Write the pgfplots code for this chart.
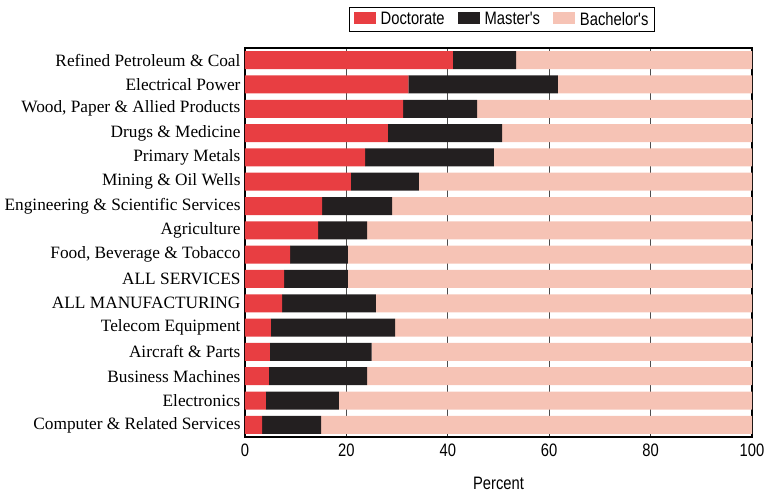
\documentclass[border=0pt]{standalone}
\usepackage{fontspec}
\setmainfont{Liberation Serif}
\newfontfamily\condsans[FakeStretch=0.82]{Liberation Sans}
\usepackage{pgfplots}
\usepackage{pgfplotstable}
\pgfplotsset{compat=1.18}

\definecolor{docred}{RGB}{232,62,66}
\definecolor{masblack}{RGB}{35,31,32}
\definecolor{bachpink}{RGB}{246,195,181}

% bottom row first
\pgfplotstableread{
y doc mas bach
0 3.4 11.6 85.0
1 4.1 14.4 81.5
2 4.7 19.4 75.9
3 4.9 20.1 75.0
4 5.1 24.5 70.4
5 7.3 18.5 74.2
6 7.7 12.6 79.7
7 8.9 11.4 79.7
8 14.4 9.7 75.9
9 15.2 13.8 71.0
10 20.9 13.4 65.7
11 23.7 25.4 50.9
12 28.2 22.5 49.3
13 31.2 14.6 54.2
14 32.2 29.5 38.3
15 41.0 12.5 46.5
}\degrees

\begin{document}
\begin{tikzpicture}
\begin{axis}[
    scale only axis,
    width=507pt, height=389pt,
    xbar stacked,
    bar width=18pt,
    xmin=0, xmax=100,
    ymin=-0.5, ymax=15.5,
    xtick={0,20,...,100},
    ytick={0,...,15},
    yticklabels={{Computer \& Related Services},{Electronics},{Business Machines},
      {Aircraft \& Parts},{Telecom Equipment},{ALL MANUFACTURING},{ALL SERVICES},
      {Food, Beverage \& Tobacco},{Agriculture},{Engineering \& Scientific Services},
      {Mining \& Oil Wells},{Primary Metals},{Drugs \& Medicine},
      {Wood, Paper \& Allied Products},{Electrical Power},{Refined Petroleum \& Coal}},
    y tick label style={font=\fontsize{17.3}{17.3}\selectfont, xshift=-1pt},
    x tick label style={font=\condsans\fontsize{18}{18}\selectfont, yshift=-3pt},
    /pgf/number format/assume math mode=true,
    xlabel={Percent},
    xlabel style={font=\condsans\fontsize{18}{18}\selectfont,
      at={(axis description cs:0.5,0)}, anchor=center, yshift=-46pt},
    xtick pos=bottom,
    ytick style={draw=none},
    xtick style={black!80, line width=0.9pt},
    tick align=inside,
    major tick length=4pt,
    xmajorgrids,
    grid style={black!70, line width=0.9pt},
    axis line style={black, line width=1.1pt},
    legend columns=3,
    legend style={at={(0.507,1)}, anchor=south, yshift=16pt,
      font=\condsans\fontsize{18}{18}\selectfont, draw=black, line width=0.8pt,
      inner xsep=4pt, inner ysep=3pt,
      /tikz/every odd column/.append style={column sep=3pt},
      /tikz/every even column/.append style={column sep=11pt}},
    legend image code/.code={\fill[#1] (-2pt,-5pt) rectangle (20pt,7pt);},
]
\addplot[fill=docred, draw=none] table[x=doc, y=y] {\degrees};
\addlegendentry{Doctorate}
\addplot[fill=masblack, draw=none] table[x=mas, y=y] {\degrees};
\addlegendentry{Master's}
\addplot[fill=bachpink, draw=none] table[x=bach, y=y] {\degrees};
\addlegendentry{Bachelor's}
\coordinate (tl) at (rel axis cs:0,1);
\coordinate (br) at (rel axis cs:1,0);
\end{axis}
\path ([shift={(-245pt,48pt)}]tl) ([shift={(16pt,-55pt)}]br);
\end{tikzpicture}
\end{document}
